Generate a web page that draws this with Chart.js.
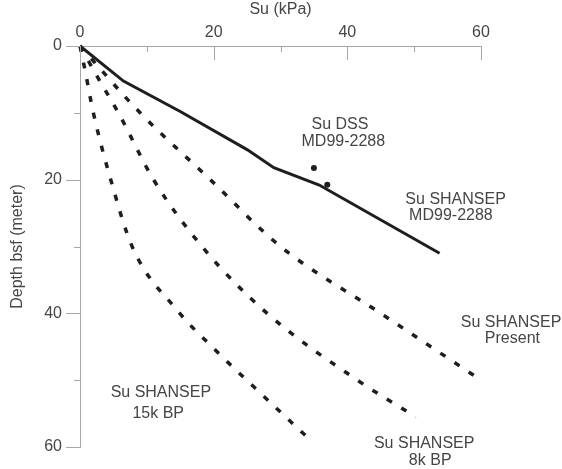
<!DOCTYPE html>
<html>
<head>
<meta charset="utf-8">
<script src="https://cdn.jsdelivr.net/npm/chart.js@4/dist/chart.umd.min.js"></script>
<style>
  body { margin: 0; background: #fff; }
  canvas { display: block; }
</style>
</head>
<body>
<canvas id="perfilSu" width="562" height="469"></canvas>
<script>
// Perfil Su SHANSEP MD99-2288 (línea continua)
const suMd99 = [0, 6.5, 15, 25, 29, 35.8, 53.8];
const profMd99 = [0, 5.25, 9.8, 15.5, 18.2, 20.8, 31];

// Ensayos DSS
const suDss = [35, 37];
const profDss = [18.25, 20.75];

// Perfiles SHANSEP a distintas edades (líneas discontinuas)
const suPresente = [0, 9, 19.5, 30, 45, 60];
const profPresente = [0, 10, 20, 30, 40, 50];

const su8k = [0, 3, 5.75, 11, 18.25, 28, 41.5, 50.25];
const prof8k = [0, 5.3, 10, 20, 30, 40, 50, 55.5];

const su15k = [0, 0.75, 2.0, 4.6, 7.8, 14.5, 20, 26, 34.5];
const prof15k = [0, 3.6, 10, 20, 30, 39.5, 45.25, 51, 59];

// Escalas
const suMin = 0, suMax = 60, suPaso = 10;
const profMin = 0, profMax = 60, profPaso = 10;
const pasoEtiqueta = 20;

const colorEje = '#a8a8a8';
const colorTexto = '#454545';
const fuente = 'Liberation Sans, Arial, sans-serif';

// Textos sobre el gráfico, en coordenadas de datos (Su, profundidad)
const rotulos = [
    { texto: 'Su DSS', su: 38.9, prof: 11.7 },
    { texto: 'MD99-2288', su: 39.4, prof: 14.35 },
    { texto: 'Su SHANSEP', su: 56.2, prof: 23.0 },
    { texto: 'MD99-2288', su: 55.5, prof: 25.45 },
    { texto: 'Su SHANSEP', su: 64.5, prof: 41.4 },
    { texto: 'Present', su: 64.7, prof: 43.85 },
    { texto: 'Su SHANSEP', su: 12.1, prof: 51.8 },
    { texto: '15k BP', su: 11.7, prof: 55.05 },
    { texto: 'Su SHANSEP', su: 51.5, prof: 59.5 },
    { texto: '8k BP', su: 52.4, prof: 62.0 }
];

function puntos(xs, ys) {
    return xs.map((v, i) => ({ x: v, y: ys[i] }));
}

function serieDiscontinua(xs, ys) {
    return {
        data: puntos(xs, ys),
        showLine: true,
        borderColor: '#1e1e1e',
        borderWidth: 3.5,
        borderDash: [6, 11],
        borderCapStyle: 'butt',
        pointRadius: 0,
        cubicInterpolationMode: 'monotone'
    };
}

// Marcas de los ejes: largas en las etiquetas, cortas en los pasos intermedios
const marcasEjes = {
    id: 'marcasEjes',
    afterDraw(chart) {
        const ctx = chart.ctx;
        const ex = chart.scales.x;
        const ey = chart.scales.y;
        ctx.save();
        ctx.strokeStyle = colorEje;
        ctx.lineWidth = 1;
        ctx.beginPath();
        ex.ticks.forEach(t => {
            const px = Math.round(ex.getPixelForValue(t.value)) + 0.5;
            const largo = t.value % pasoEtiqueta === 0 ? 14 : 6;
            ctx.moveTo(px, ex.bottom);
            ctx.lineTo(px, ex.bottom + largo);
        });
        ey.ticks.forEach(t => {
            const py = Math.round(ey.getPixelForValue(t.value)) + 0.5;
            const largo = t.value % pasoEtiqueta === 0 ? 14 : 6;
            ctx.moveTo(ey.right, py);
            ctx.lineTo(ey.right - largo, py);
        });
        ctx.stroke();
        ctx.restore();
    }
};

const rotulosPlugin = {
    id: 'rotulos',
    afterDraw(chart) {
        const ctx = chart.ctx;
        const ex = chart.scales.x;
        const ey = chart.scales.y;
        ctx.save();
        ctx.font = '16px ' + fuente;
        ctx.fillStyle = colorTexto;
        ctx.textAlign = 'center';
        ctx.textBaseline = 'middle';
        rotulos.forEach(r => {
            ctx.fillText(r.texto, ex.getPixelForValue(r.su), ey.getPixelForValue(r.prof));
        });
        ctx.restore();
    }
};

function etiquetaEje(valor) {
    return valor % pasoEtiqueta === 0 ? String(valor) : '';
}

const ctx = document.getElementById('perfilSu').getContext('2d');
new Chart(ctx, {
    type: 'scatter',
    data: {
        datasets: [
            {
                data: puntos(suMd99, profMd99),
                showLine: true,
                borderColor: '#1e1e1e',
                borderWidth: 3,
                pointRadius: 0,
                tension: 0
            },
            {
                data: puntos(suDss, profDss),
                backgroundColor: '#1e1e1e',
                borderWidth: 0,
                pointRadius: 3
            },
            serieDiscontinua(suPresente, profPresente),
            serieDiscontinua(su8k, prof8k),
            serieDiscontinua(su15k, prof15k)
        ]
    },
    options: {
        responsive: false,
        animation: false,
        clip: false,
        layout: { padding: { top: 0, left: 0, right: 81, bottom: 22 } },
        plugins: {
            legend: { display: false },
            tooltip: { enabled: false }
        },
        scales: {
            x: {
                position: 'top',
                min: suMin,
                max: suMax,
                afterFit: scale => { scale.height = 46; },
                grid: { display: false, drawTicks: false },
                border: { display: true, color: colorEje, width: 1 },
                ticks: {
                    stepSize: suPaso,
                    autoSkip: false,
                    maxRotation: 0,
                    padding: 4,
                    color: colorTexto,
                    font: { family: fuente, size: 16 },
                    callback: etiquetaEje
                },
                title: {
                    display: true,
                    text: 'Su (kPa)',
                    color: colorTexto,
                    padding: { top: 0, bottom: 0 },
                    font: { family: fuente, size: 16 }
                }
            },
            y: {
                reverse: true,
                min: profMin,
                max: profMax,
                afterFit: scale => { scale.width = 80; },
                grid: { display: false, drawTicks: true, tickLength: 14 },
                border: { display: true, color: colorEje, width: 1 },
                ticks: {
                    stepSize: profPaso,
                    autoSkip: false,
                    padding: 4,
                    color: colorTexto,
                    font: { family: fuente, size: 16 },
                    callback: etiquetaEje
                },
                title: {
                    display: true,
                    text: 'Depth bsf (meter)',
                    color: colorTexto,
                    padding: { top: 8, bottom: 0 },
                    font: { family: fuente, size: 16 }
                }
            }
        }
    },
    plugins: [marcasEjes, rotulosPlugin]
});
</script>
</body>
</html>
